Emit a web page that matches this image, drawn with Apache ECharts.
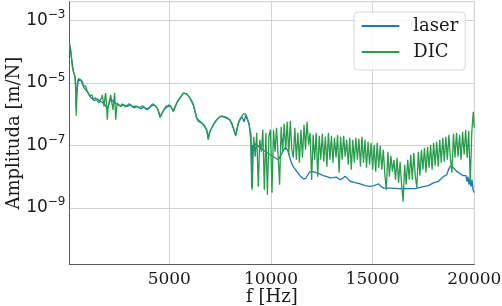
<!DOCTYPE html>
<html>
<head>
<meta charset="utf-8">
<script src="https://cdn.jsdelivr.net/npm/echarts@6/dist/echarts.min.js"></script>
<style>
html,body{margin:0;padding:0;background:#fff;}
#chart{width:502px;height:306px;}
</style>
</head>
<body>
<div id="chart"></div>
<script>
// ---- data ----
const seriesNames = ['laser', 'DIC'];
const xTickValues = [5000, 10000, 15000, 20000];
const yTickValues = [1e-9, 1e-7, 1e-5, 1e-3];

const laserFreqLow = [92,190,289,362,397,421,451,535,608,721,805,967,1135,1297,1459,1626,1789,1951,2118,2280,2443,2610,2772,2935,3102,3264,3426,3594,3756,3918,4085,4248,4410,4543,4617,4740,4902,5059,5197,5364,5526,5689,5856,6018,6180,6347,6510,6672,6839,6918,7002,7164,7331,7494,7656,7823,7985,8148,8266,8394,8561,8625,8689,8748,8807,8885,8930];
const laserAmpLow = [1.8e-4,6.4e-5,2.28e-5,1.61e-5,8e-6,1.5e-6,5e-6,1.36e-5,1.44e-5,1.12e-5,7.02e-6,5.35e-6,3.5e-6,2.75e-6,3.05e-6,2.55e-6,2.2e-6,1.5e-6,3e-6,2.5e-6,2.1e-6,1.8e-6,2.0e-6,1.77e-6,2.0e-6,1.6e-6,1.77e-6,1.5e-6,1.7e-6,1.4e-6,1.77e-6,2.0e-6,1.57e-6,8.5e-7,8.5e-7,1.39e-6,1.77e-6,1.86e-6,1.25e-6,2.27e-6,3.27e-6,4.75e-6,4.51e-6,3.27e-6,2.0e-6,7.5e-7,6.0e-7,4.8e-7,3.1e-7,1.6e-7,2.8e-7,4.6e-7,6.6e-7,8.4e-7,8.4e-7,7.5e-7,6.6e-7,3.6e-7,2.1e-7,5.1e-7,8.4e-7,9.5e-7,5.7e-7,9e-7,8.4e-7,5.85e-7,4.6e-7];

const laserFreqHigh = [8968,9018,9052,9092,9215,9362,9461,9707,9953,10199,10361,10528,10690,10813,10912,11020,11133,11266,11428,11590,11698,11821,11920,12067,12249,12411,12573,12755,12903,13050,13232,13394,13517,13640,13763,13895,14140,14386,14632,14878,15075,15286,15419,15532,15862,16270,16600,17091,17500,17746,17992,18229,18475,18642,18731,18830,18889,18977,19135,19297,19445,19543,19592,19642,19691,19740,19789,19838,19887,19937,19986];
const laserAmpHigh = [3.18e-7,2.2e-7,4.43e-9,9.77e-8,1.13e-7,9.77e-8,8.43e-8,6.5e-8,5.04e-8,4.04e-8,3.48e-8,5.4e-8,8.6e-8,7.28e-8,4.35e-8,2.6e-8,1.93e-8,1.47e-8,1.07e-8,8.5e-9,8.7e-9,1.15e-8,1.44e-8,1.44e-8,1.31e-8,1.2e-8,1.07e-8,9.95e-9,9.1e-9,9.3e-9,9.6e-9,7.98e-9,8.6e-9,1.03e-8,8.6e-9,7.1e-9,6.4e-9,5.8e-9,5.13e-9,4.9e-9,5.13e-9,5.9e-9,4.76e-9,4.3e-9,4.25e-9,4.11e-9,4.11e-9,4.11e-9,4.76e-9,5.13e-9,6.3e-9,7.0e-9,9.95e-9,1.15e-8,1.67e-8,2.24e-8,2.3e-8,1.93e-8,1.47e-8,1.25e-8,1.07e-8,9.3e-9,1.07e-8,6.9e-9,9.95e-9,5.52e-9,8.6e-9,4.76e-9,7.98e-9,3.82e-9,3.06e-9];

const dicFreqLow = [92,156,190,230,289,362,397,421,451,485,535,608,658,721,756,805,879,967,1026,1076,1135,1199,1248,1297,1371,1459,1543,1626,1666,1705,1740,1789,1838,1872,1912,1951,1985,2035,2084,2118,2182,2231,2280,2315,2340,2364,2403,2443,2526,2610,2674,2772,2846,2935,3018,3102,3190,3264,3338,3426,3510,3594,3682,3756,3830,3918,4002,4085,4174,4248,4321,4410,4494,4543,4577,4617,4690,4740,4814,4902,4986,5059,5118,5197,5280,5364,5443,5526,5610,5689,5772,5856,5934,6018,6102,6180,6264,6347,6426,6510,6594,6672,6756,6839,6918,6953,7002,7085,7164,7248,7331,7410,7494,7577,7656,7740,7823,7902,7985,8069,8148,8207,8266,8330,8394,8477,8561,8625,8689,8748,8807,8885,8930];
const dicAmpLow = [1.8e-4,1.15e-4,6.4e-5,3.37e-5,2.28e-5,1.61e-5,6.05e-6,8.91e-7,4.19e-6,1.09e-5,1.36e-5,1.44e-5,1.26e-5,1.12e-5,8.13e-6,7.02e-6,8.13e-6,5.35e-6,6.05e-6,3.89e-6,3.5e-6,4.19e-6,3.12e-6,2.75e-6,3.36e-6,3.05e-6,2.32e-6,2.55e-6,3.36e-6,4.19e-6,2.9e-6,1.77e-6,3.61e-6,4.75e-6,2.0e-6,6.64e-7,1.61e-6,2.27e-6,3.36e-6,4.19e-6,2.16e-6,1.39e-6,3.12e-6,4.75e-6,1.61e-6,6.64e-7,1.39e-6,2.27e-6,2.0e-6,1.77e-6,2.16e-6,2.0e-6,1.73e-6,1.77e-6,2.16e-6,2.0e-6,1.73e-6,1.57e-6,1.86e-6,1.77e-6,1.61e-6,1.47e-6,1.86e-6,1.69e-6,1.49e-6,1.39e-6,1.61e-6,1.77e-6,2.16e-6,2.0e-6,1.86e-6,1.57e-6,1.11e-6,7.69e-7,6.64e-7,8.28e-7,1.2e-6,1.39e-6,1.73e-6,1.77e-6,2.0e-6,1.86e-6,1.57e-6,1.22e-6,1.73e-6,2.27e-6,2.9e-6,3.27e-6,4.04e-6,4.75e-6,4.86e-6,4.51e-6,3.89e-6,3.27e-6,2.69e-6,2.0e-6,1.29e-6,7.52e-7,5.85e-7,6.17e-7,5.14e-7,4.94e-7,4.06e-7,3.18e-7,1.52e-7,2.37e-7,2.8e-7,3.68e-7,4.59e-7,5.73e-7,6.64e-7,7.69e-7,8.44e-7,8.91e-7,8.44e-7,8.28e-7,7.52e-7,7.4e-7,6.64e-7,5.32e-7,3.6e-7,2.74e-7,2.04e-7,3.42e-7,5.14e-7,7.14e-7,8.44e-7,1.0e-6,1.1e-6,1.03e-6,8.44e-7,5.85e-7,4.59e-7];

const dicFreqHigh = [9000,9075,9150,9225,9300,9375,9450,9525,9600,9675,9750,9825,9900,9975,10050,10125,10200,10275,10350,10425,10500,10575,10650,10725,10800,10875,10950,11025,11100,11175,11250,11325,11400,11475,11550,11625,11700,11775,11850,11925,12000,12075,12150,12225,12300,12375,12450,12525,12600,12675,12750,12825,12900,12975,13050,13125,13200,13275,13350,13425,13500,13575,13650,13725,13800,13875,13950,14025,14100,14175,14250,14325,14400,14475,14550,14625,14700,14775,14850,14925,15000,15075,15150,15225,15300,15375,15450,15525,15600,15675,15750,15825,15900,15975,16050,16125,16200,16275,16350,16425,16500,16575,16650,16725,16800,16875,16950,17025,17100,17175,17250,17325,17400,17475,17550,17625,17700,17775,17850,17925,18000,18075,18150,18225,18300,18375,18450,18525,18600,18675,18750,18825,18900,18975,19050,19125,19200,19275,19350,19425,19500,19575,19650,19725,19800,19875,19950,20000];
const dicAmpHigh = [1.52e-7,3.82e-9,1.9e-7,4.35e-8,2.55e-7,4.76e-9,1.52e-7,6.28e-8,3.18e-7,3.82e-9,
2.55e-7,2.64e-9,2.04e-7,3.18e-7,3.06e-9,3.18e-7,6.28e-8,3.68e-7,5.04e-8,5.52e-9,
3.96e-7,6.28e-8,4.94e-7,7.28e-8,5.73e-7,5.04e-8,6.17e-7,7.28e-8,4.04e-8,3.68e-7,
3.48e-8,2.55e-7,2.79e-8,3.18e-7,4.04e-8,4.59e-7,7.28e-8,5.73e-7,1.05e-7,2.55e-7,
7.98e-9,2.2e-7,3.48e-8,2.55e-7,9.95e-9,2.04e-7,3.48e-8,2.37e-7,3.01e-8,1.9e-7,
2.08e-8,2.55e-7,3.48e-8,2.04e-7,2.79e-8,1.76e-7,4.04e-8,2.2e-7,1.34e-8,1.9e-7,
3.48e-8,2.04e-7,4.35e-8,1.52e-7,2.41e-8,1.76e-7,1.67e-8,1.52e-7,2.79e-8,1.76e-7,
3.48e-8,1.64e-7,2.08e-8,1.9e-7,2.79e-8,1.52e-7,1.93e-8,1.31e-7,2.41e-8,1.22e-7,
1.67e-8,1.05e-7,1.44e-8,1.22e-7,1.93e-8,9.77e-8,1.67e-8,7.28e-8,1.15e-8,3.82e-9,
6.28e-8,9.95e-9,4.68e-8,1.44e-8,3.48e-8,7.98e-9,4.04e-8,6.4e-9,3.01e-8,5.52e-9,
1.58e-9,2.41e-8,5.52e-9,3.48e-8,7.98e-9,5.04e-8,7.98e-9,5.83e-8,9.95e-9,4.43e-9,
6.28e-8,1.07e-8,7.28e-8,1.67e-8,8.43e-8,1.34e-8,9.08e-8,1.93e-8,1.05e-7,1.67e-8,
1.22e-7,2.24e-8,1.31e-7,2.08e-8,1.52e-7,2.79e-8,1.76e-7,3.01e-8,1.9e-7,3.48e-8,
2.2e-7,4.04e-8,1.34e-8,2.37e-7,4.04e-8,2.55e-7,4.35e-8,2.2e-7,3.48e-8,2.74e-7,
5.04e-8,3.18e-7,4.04e-8,2.95e-7,6.4e-9,2.55e-7,1.2e-6,3.68e-7];

// ---- build series data ----
function zip(fs, as) { return fs.map((f, i) => [f, as[i]]); }
const laserData = zip(laserFreqLow, laserAmpLow).concat(zip(laserFreqHigh, laserAmpHigh));
const dicData = zip(dicFreqLow, dicAmpLow).concat(zip(dicFreqHigh, dicAmpHigh));

const SERIF = 'DejaVu Serif';
const SANS = 'DejaVu Sans';
const TXT = '#1a1a1a';

const chart = echarts.init(document.getElementById('chart'), null, {renderer: 'canvas'});
chart.setOption({
  animation: false,
  backgroundColor: '#ffffff',
  grid: {left: 69.5, right: 27.7, top: 1.7, bottom: 41.5, containLabel: false, outerBoundsMode: 'none',
         show: true, borderColor: '#cccccc', borderWidth: 1},
  legend: {
    orient: 'vertical', left: 354, top: 12,
    padding: [5, 7, 9, 6.7],
    itemWidth: 37.6, itemHeight: 18, itemGap: 8,
    itemStyle: {opacity: 0},
    backgroundColor: 'rgba(255,255,255,0.85)', borderColor: '#d8d8d8', borderWidth: 1, borderRadius: 4,
    textStyle: {fontFamily: SERIF, fontSize: 18, color: TXT, padding: [0, 0, 0, 9]},
    data: seriesNames
  },
  xAxis: {
    type: 'value', min: 92, max: 20000,
    name: 'f [Hz]', nameLocation: 'middle', nameGap: 24, nameMoveOverlap: false,
    nameTextStyle: {fontFamily: SERIF, fontSize: 18, color: TXT},
    axisLine: {show: true, onZero: false, lineStyle: {color: '#5a5a5a', width: 1}},
    axisTick: {show: false, customValues: xTickValues},
    axisLabel: {customValues: xTickValues, fontFamily: SERIF, fontSize: 17, color: TXT, margin: 7,
                formatter: function (v) { return String(v); }},
    splitLine: {show: true, lineStyle: {color: '#d2d2d2', width: 1}}
  },
  yAxis: {
    type: 'log', logBase: 10, min: 1.52e-11, max: 4.06e-3,
    name: 'Amplituda [m/N]', nameLocation: 'middle', nameGap: 46, nameRotate: 90, nameMoveOverlap: false,
    nameTextStyle: {fontFamily: SERIF, fontSize: 18, color: TXT},
    axisLine: {show: true, lineStyle: {color: '#5a5a5a', width: 1}},
    axisTick: {show: false, customValues: yTickValues},
    axisLabel: {
      customValues: yTickValues, margin: 4,
      formatter: function (v) { return '{b|10}{s|\u2212' + Math.round(-Math.log10(v)) + '}'; },
      rich: {
        b: {fontFamily: SANS, fontSize: 17, color: TXT, lineHeight: 18},
        s: {fontFamily: SANS, fontSize: 12, color: TXT, lineHeight: 12, padding: [0, 0, 11, 0]}
      }
    },
    splitLine: {show: true, lineStyle: {color: '#d2d2d2', width: 1}}
  },
  series: [
    {name: seriesNames[0], type: 'line', data: laserData, symbol: 'none', showSymbol: false, sampling: null,
     lineStyle: {color: '#1f77b4', width: 1.3}, itemStyle: {color: '#1f77b4'}, z: 2},
    {name: seriesNames[1], type: 'line', data: dicData, symbol: 'none', showSymbol: false, sampling: null,
     lineStyle: {color: '#279c4b', width: 1.3}, itemStyle: {color: '#279c4b'}, z: 3}
  ]
});
</script>
</body>
</html>
